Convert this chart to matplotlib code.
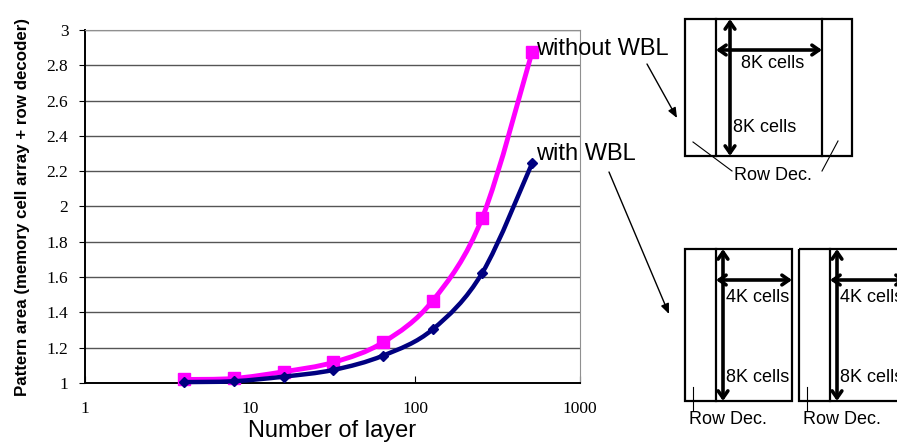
#!/usr/bin/env python3
"""Pattern area vs. number of layers, with / without WBL, plus cell-array sketches."""

import matplotlib
matplotlib.use("Agg")
import matplotlib.pyplot as plt
import numpy as np
from matplotlib.patches import PathPatch, Rectangle
from matplotlib.path import Path

layers = [4, 8, 16, 32, 64, 128, 256, 512]
without_wbl = [1.02, 1.026, 1.064, 1.117, 1.23, 1.466, 1.937, 2.874]
with_wbl = [1.005, 1.01, 1.036, 1.074, 1.155, 1.304, 1.625, 2.244]

y_ticks = [1, 1.2, 1.4, 1.6, 1.8, 2, 2.2, 2.4, 2.6, 2.8, 3]
y_tick_labels = ["1", "1.2", "1.4", "1.6", "1.8", "2", "2.2", "2.4", "2.6", "2.8", "3"]
x_ticks = [1, 10, 100, 1000]
x_tick_labels = ["1", "10", "100", "1000"]

W, H = 897, 447
SANS = "Liberation Sans"
SERIF = "Liberation Serif"


def smooth_path(xs, ys):
    # Excel-style smoothed line: Catmull-Rom bezier in (log x, y) space
    lx = np.log10(xs)
    y = np.asarray(ys, dtype=float)
    n = len(xs)
    verts = [(xs[0], ys[0])]
    codes = [Path.MOVETO]
    for i in range(n - 1):
        a = max(i - 1, 0)
        b = min(i + 2, n - 1)
        c1 = (10 ** (lx[i] + (lx[i + 1] - lx[a]) / 6), y[i] + (y[i + 1] - y[a]) / 6)
        c2 = (10 ** (lx[i + 1] - (lx[b] - lx[i]) / 6), y[i + 1] - (y[b] - y[i]) / 6)
        verts += [c1, c2, (xs[i + 1], ys[i + 1])]
        codes += [Path.CURVE4] * 3
    return Path(verts, codes)


def main() -> int:
    fig = plt.figure(figsize=(W / 100, H / 100), dpi=100)
    ax = fig.add_axes([85 / W, (H - 383) / H, 495 / W, 353 / H])

    ax.set_xscale("log")
    ax.set_xlim(1, 1000)
    ax.set_ylim(1, 3)
    ax.set_yticks(y_ticks)
    ax.set_yticklabels(y_tick_labels, fontfamily=SERIF, fontsize=12.5)
    ax.set_xticks(x_ticks)
    ax.set_xticklabels(x_tick_labels, fontfamily=SERIF, fontsize=12.5)
    ax.minorticks_off()
    ax.tick_params(axis="x", direction="in", length=5, pad=13)
    ax.tick_params(axis="y", direction="out", length=4, pad=8)
    ax.yaxis.grid(True, color="#555555", lw=1)
    ax.set_axisbelow(True)
    for side in ("top", "right"):
        ax.spines[side].set_color("#909090")
    for side in ("left", "bottom"):
        ax.spines[side].set_color("black")
        ax.spines[side].set_linewidth(1.4)

    for vals, color, lw, marker, ms in (
        (without_wbl, "#FF00FF", 3.5, "s", 8),
        (with_wbl, "#000080", 3.2, "D", 5),
    ):
        ax.add_patch(PathPatch(smooth_path(layers, vals), fill=False, ec=color,
                               lw=lw, capstyle="round", joinstyle="round",
                               clip_on=False, zorder=3))
        ax.plot(layers, vals, ls="none", color=color, marker=marker, ms=ms,
                clip_on=False, zorder=3)

    ax.annotate("without WBL", (layers[-1], without_wbl[-1]), xytext=(3, 2),
                textcoords="offset points", va="center", ha="left",
                fontfamily=SANS, fontsize=17, zorder=5)
    ax.annotate("with WBL", (layers[-1], with_wbl[-1]), xytext=(3, 7),
                textcoords="offset points", va="center", ha="left",
                fontfamily=SANS, fontsize=17, zorder=5)

    ax.set_xlabel("Number of layer", fontfamily=SANS, fontsize=17, labelpad=2)
    ax.set_ylabel("Pattern area (memory cell array + row decoder)",
                  fontfamily=SANS, fontsize=12.2, fontweight="bold", labelpad=12)

    # sketch overlay in pixel coordinates
    ov = fig.add_axes([0, 0, 1, 1], zorder=4)
    ov.set_xlim(0, W)
    ov.set_ylim(H, 0)
    ov.axis("off")
    ov.patch.set_visible(False)

    box_kw = dict(fill=False, ec="black", lw=1.6)
    dbl = dict(arrowstyle="<->,head_length=0.5,head_width=0.35", lw=2.6, color="black",
               shrinkA=0, shrinkB=0)
    thin = dict(arrowstyle="-|>,head_length=0.6,head_width=0.25", lw=1, color="black",
                shrinkA=0, shrinkB=0)
    txt = dict(fontfamily=SANS, fontsize=13, ha="center", va="center")

    # top sketch: without WBL
    ov.add_patch(Rectangle((685, 19), 167, 137, **box_kw))
    ov.plot([716, 716], [19, 156], color="black", lw=1.6)
    ov.plot([822, 822], [19, 156], color="black", lw=1.6)
    ov.annotate("", xy=(730, 19), xytext=(730, 156), arrowprops=dbl)
    ov.annotate("", xy=(716, 50), xytext=(822, 50), arrowprops=dbl)
    ov.text(773, 63, "8K cells", **txt)
    ov.text(765, 128, "8K cells", **txt)
    ov.text(773, 175, "Row Dec.", **txt)
    ov.plot([693, 732], [142, 171], color="black", lw=0.8)
    ov.plot([838, 822], [141, 171], color="black", lw=0.8)

    # bottom sketches: with WBL (the right one runs off the edge, as in the source)
    for x0 in (685, 799):
        ov.add_patch(Rectangle((x0, 249), 107, 152, **box_kw))
        ov.plot([x0 + 31, x0 + 31], [249, 401], color="black", lw=1.6)
        ov.annotate("", xy=(x0 + 38, 249), xytext=(x0 + 38, 401), arrowprops=dbl)
        ov.annotate("", xy=(x0 + 31, 280), xytext=(x0 + 107, 280), arrowprops=dbl)
        ov.text(x0 + 73, 298, "4K cells", clip_on=True, **txt)
        ov.text(x0 + 73, 377, "8K cells", clip_on=True, **txt)
        ov.text(x0 + 43, 420, "Row Dec.", clip_on=True, **txt)
        ov.plot([x0 + 8, x0 + 8], [387, 410], color="black", lw=0.8)

    # pointer arrows from the series labels
    ov.annotate("", xy=(677, 118), xytext=(647, 64), arrowprops=thin)
    ov.annotate("", xy=(669, 314), xytext=(609, 172), arrowprops=thin)

    fig.savefig("out.png", dpi=100)
    plt.close(fig)
    return 0


if __name__ == "__main__":
    raise SystemExit(main())
